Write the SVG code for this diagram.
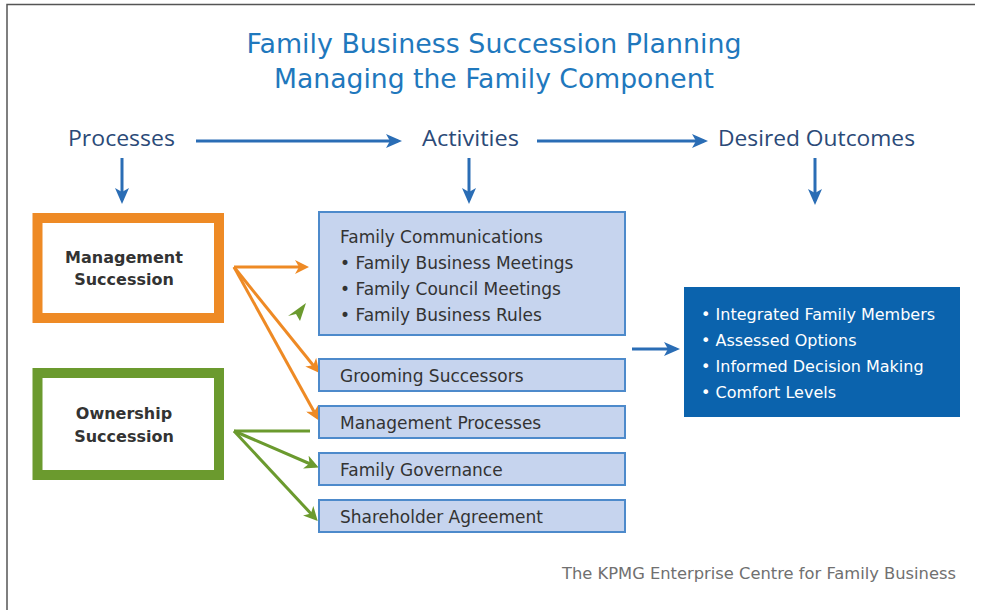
<svg xmlns="http://www.w3.org/2000/svg" width="981" height="610" viewBox="0 0 981 610">
<defs>
<style>
.title{font-family:"DejaVu Sans",Verdana,sans-serif;font-size:27px;fill:#1f78bd;text-anchor:middle}
.head{font-family:"Open Sans","Liberation Sans",sans-serif;font-size:22px;fill:#2b4a78}
.proc{font-family:"DejaVu Sans",Verdana,sans-serif;font-size:16px;font-weight:bold;fill:#333;text-anchor:middle}
.act{font-family:"DejaVu Sans",Verdana,sans-serif;font-size:17px;fill:#333}
.out{font-family:"DejaVu Sans",Verdana,sans-serif;font-size:16px;fill:#fff}
.foot{font-family:"DejaVu Sans",Verdana,sans-serif;font-size:15px;fill:#707070}
.abox{fill:#c6d4ee;stroke:#4d8acb;stroke-width:2}
.blue{stroke:#2a6db5;stroke-width:3;fill:none}
.orange{stroke:#ee8a25;stroke-width:3;fill:none}
.green{stroke:#6b9a2e;stroke-width:3;fill:none}
</style>
<marker id="ao" markerWidth="14" markerHeight="14" refX="10" refY="7" orient="auto" markerUnits="userSpaceOnUse" viewBox="0 0 14 14"><path d="M0,0 L14,7 L0,14 L4,7 Z" fill="#ee8a25"/></marker>
<marker id="ag" markerWidth="14" markerHeight="14" refX="10" refY="7" orient="auto" markerUnits="userSpaceOnUse" viewBox="0 0 14 14"><path d="M0,0 L14,7 L0,14 L4,7 Z" fill="#6b9a2e"/></marker>
<marker id="abig" markerWidth="16" markerHeight="16" refX="12" refY="8" orient="auto" markerUnits="userSpaceOnUse" viewBox="0 0 16 16"><path d="M0,1 L16,8 L0,15 L4,8 Z" fill="#2a6db5"/></marker>
</defs>
<rect x="0" y="0" width="981" height="610" fill="#fff"/>
<path d="M7,610 V4.5 H975" fill="none" stroke="#555" stroke-width="1.5"/>

<text class="title" x="494" y="53" textLength="495" lengthAdjust="spacingAndGlyphs">Family Business Succession Planning</text>
<text class="title" x="494" y="88" textLength="440" lengthAdjust="spacingAndGlyphs">Managing the Family Component</text>

<g id="headers">
<text class="head" x="68" y="146" textLength="107" lengthAdjust="spacingAndGlyphs">Processes</text>
<text class="head" x="422" y="146" textLength="97" lengthAdjust="spacingAndGlyphs">Activities</text>
<text class="head" x="718" y="146" textLength="197" lengthAdjust="spacingAndGlyphs">Desired Outcomes</text>
</g>

<g id="connectors">
<line class="blue" x1="196" y1="141" x2="398" y2="141" marker-end="url(#abig)"/>
<line class="blue" x1="537" y1="141" x2="704" y2="141" marker-end="url(#abig)"/>
<line class="blue" x1="122" y1="158" x2="122" y2="200" marker-end="url(#abig)"/>
<line class="blue" x1="469" y1="158" x2="469" y2="200" marker-end="url(#abig)"/>
<line class="blue" x1="815" y1="158" x2="815" y2="201" marker-end="url(#abig)"/>
<line class="blue" x1="632" y1="349" x2="676" y2="349" marker-end="url(#abig)"/>
<line class="orange" x1="234" y1="267" x2="305" y2="267" marker-end="url(#ao)"/>
<line class="orange" x1="234" y1="267" x2="317" y2="370" marker-end="url(#ao)"/>
<line class="orange" x1="234" y1="267" x2="317" y2="417" marker-end="url(#ao)"/>
<line class="green" x1="234" y1="431" x2="310" y2="431"/>
<line class="green" x1="234" y1="431" x2="315" y2="466" marker-end="url(#ag)"/>
<line class="green" x1="234" y1="431" x2="315" y2="518" marker-end="url(#ag)"/>
<path d="M306,303 L300,321 L296,314 L288,316 Z" fill="#6b9a2e"/>
</g>

<g id="management-succession">
<rect x="37.5" y="218" width="181.5" height="100" fill="#fff" stroke="#ee8a25" stroke-width="10"/>
<text class="proc" x="124" y="263">Management</text>
<text class="proc" x="124" y="285">Succession</text>
</g>
<g id="ownership-succession">
<rect x="37.5" y="373" width="181.5" height="102" fill="#fff" stroke="#6b9a2e" stroke-width="10"/>
<text class="proc" x="124" y="419">Ownership</text>
<text class="proc" x="124" y="442">Succession</text>
</g>

<g id="family-communications">
<rect class="abox" x="319" y="212" width="306" height="123"/>
<text class="act" x="340" y="243">Family Communications</text>
<text class="act" x="340" y="269">• Family Business Meetings</text>
<text class="act" x="340" y="295">• Family Council Meetings</text>
<text class="act" x="340" y="321">• Family Business Rules</text>
</g>
<g id="grooming-successors">
<rect class="abox" x="319" y="359" width="306" height="32"/>
<text class="act" x="340" y="382">Grooming Successors</text>
</g>
<g id="management-processes">
<rect class="abox" x="319" y="406" width="306" height="32"/>
<text class="act" x="340" y="429">Management Processes</text>
</g>
<g id="family-governance">
<rect class="abox" x="319" y="453" width="306" height="32"/>
<text class="act" x="340" y="476">Family Governance</text>
</g>
<g id="shareholder-agreement">
<rect class="abox" x="319" y="500" width="306" height="32"/>
<text class="act" x="340" y="523">Shareholder Agreement</text>
</g>

<g id="outcomes">
<rect x="684" y="287" width="276" height="130" fill="#0b63ad"/>
<text class="out" x="701" y="320">• Integrated Family Members</text>
<text class="out" x="701" y="346">• Assessed Options</text>
<text class="out" x="701" y="372">• Informed Decision Making</text>
<text class="out" x="701" y="398">• Comfort Levels</text>
</g>

<text class="foot" x="562" y="579" textLength="394" lengthAdjust="spacingAndGlyphs">The KPMG Enterprise Centre for Family Business</text>
</svg>
